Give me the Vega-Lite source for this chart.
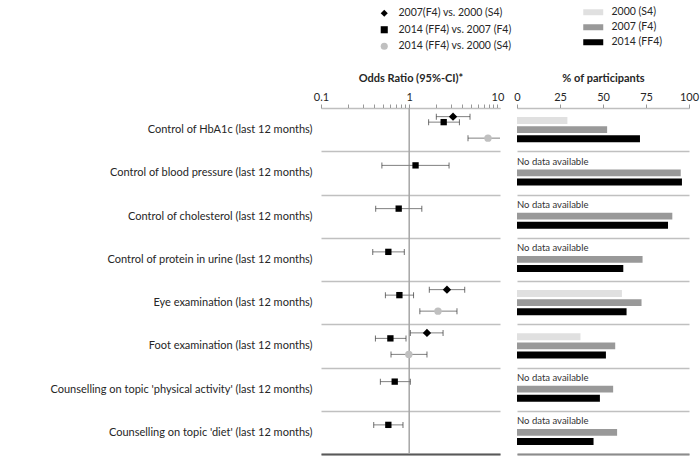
{
  "$schema": "https://vega.github.io/schema/vega-lite/v6.json",
  "padding": {"left": 47, "top": 7, "right": 1, "bottom": 2},
  "background": "white",
  "config": {
    "font": "Lato",
    "view": {"stroke": null},
    "axis": {"labelColor": "#262626", "titleColor": "#262626", "labelFontSize": 11, "titleFontSize": 11, "titleFontWeight": "bold"},
    "legend": {"labelColor": "#262626", "labelFontSize": 10.5, "padding": 0}
  },
  "datasets": {
    "or": [
      {"item": "Control of HbA1c (last 12 months)", "comp": "2007(F4)  vs. 2000 (S4)", "or": 3.14, "lo": 2.03, "hi": 4.89},
      {"item": "Control of HbA1c (last 12 months)", "comp": "2014 (FF4)  vs. 2007 (F4)", "or": 2.46, "lo": 1.66, "hi": 3.71},
      {"item": "Control of HbA1c (last 12 months)", "comp": "2014 (FF4) vs. 2000 (S4)", "or": 7.82, "lo": 4.64, "hi": 12},
      {"item": "Control of blood pressure (last 12 months)", "comp": "2014 (FF4)  vs. 2007 (F4)", "or": 1.18, "lo": 0.49, "hi": 2.83},
      {"item": "Control of cholesterol (last 12 months)", "comp": "2014 (FF4)  vs. 2007 (F4)", "or": 0.76, "lo": 0.417, "hi": 1.39},
      {"item": "Control of protein in urine (last 12 months)", "comp": "2014 (FF4)  vs. 2007 (F4)", "or": 0.58, "lo": 0.386, "hi": 0.88},
      {"item": "Eye examination (last 12 months)", "comp": "2007(F4)  vs. 2000 (S4)", "or": 2.68, "lo": 1.69, "hi": 4.26},
      {"item": "Eye examination (last 12 months)", "comp": "2014 (FF4)  vs. 2007 (F4)", "or": 0.774, "lo": 0.537, "hi": 1.12},
      {"item": "Eye examination (last 12 months)", "comp": "2014 (FF4) vs. 2000 (S4)", "or": 2.12, "lo": 1.32, "hi": 3.48},
      {"item": "Foot examination (last 12 months)", "comp": "2007(F4)  vs. 2000 (S4)", "or": 1.59, "lo": 1.03, "hi": 2.42},
      {"item": "Foot examination (last 12 months)", "comp": "2014 (FF4)  vs. 2007 (F4)", "or": 0.612, "lo": 0.414, "hi": 0.92},
      {"item": "Foot examination (last 12 months)", "comp": "2014 (FF4) vs. 2000 (S4)", "or": 0.99, "lo": 0.622, "hi": 1.59},
      {"item": "Counselling on topic 'physical activity'  (last 12 months)", "comp": "2014 (FF4)  vs. 2007 (F4)", "or": 0.685, "lo": 0.471, "hi": 1.03},
      {"item": "Counselling on topic 'diet'  (last 12 months)", "comp": "2014 (FF4)  vs. 2007 (F4)", "or": 0.58, "lo": 0.396, "hi": 0.85}
    ],
    "pct": [
      {"item": "Control of HbA1c (last 12 months)", "year": "2000 (S4)", "pct": 29.3},
      {"item": "Control of HbA1c (last 12 months)", "year": "2007 (F4)", "pct": 52.4},
      {"item": "Control of HbA1c (last 12 months)", "year": "2014 (FF4)", "pct": 71.5},
      {"item": "Control of blood pressure (last 12 months)", "year": "2000 (S4)", "pct": null},
      {"item": "Control of blood pressure (last 12 months)", "year": "2007 (F4)", "pct": 95.2},
      {"item": "Control of blood pressure (last 12 months)", "year": "2014 (FF4)", "pct": 95.9},
      {"item": "Control of cholesterol (last 12 months)", "year": "2000 (S4)", "pct": null},
      {"item": "Control of cholesterol (last 12 months)", "year": "2007 (F4)", "pct": 90.3},
      {"item": "Control of cholesterol (last 12 months)", "year": "2014 (FF4)", "pct": 87.8},
      {"item": "Control of protein in urine (last 12 months)", "year": "2000 (S4)", "pct": null},
      {"item": "Control of protein in urine (last 12 months)", "year": "2007 (F4)", "pct": 73.0},
      {"item": "Control of protein in urine (last 12 months)", "year": "2014 (FF4)", "pct": 61.8},
      {"item": "Eye examination (last 12 months)", "year": "2000 (S4)", "pct": 61.0},
      {"item": "Eye examination (last 12 months)", "year": "2007 (F4)", "pct": 72.4},
      {"item": "Eye examination (last 12 months)", "year": "2014 (FF4)", "pct": 63.7},
      {"item": "Foot examination (last 12 months)", "year": "2000 (S4)", "pct": 36.9},
      {"item": "Foot examination (last 12 months)", "year": "2007 (F4)", "pct": 57.1},
      {"item": "Foot examination (last 12 months)", "year": "2014 (FF4)", "pct": 51.7},
      {"item": "Counselling on topic 'physical activity'  (last 12 months)", "year": "2000 (S4)", "pct": null},
      {"item": "Counselling on topic 'physical activity'  (last 12 months)", "year": "2007 (F4)", "pct": 55.9},
      {"item": "Counselling on topic 'physical activity'  (last 12 months)", "year": "2014 (FF4)", "pct": 48.2},
      {"item": "Counselling on topic 'diet'  (last 12 months)", "year": "2000 (S4)", "pct": null},
      {"item": "Counselling on topic 'diet'  (last 12 months)", "year": "2007 (F4)", "pct": 58.2},
      {"item": "Counselling on topic 'diet'  (last 12 months)", "year": "2014 (FF4)", "pct": 44.5}
    ],
    "one": [{}]
  },
  "spacing": 17,
  "bounds": "flush",
  "resolve": {"scale": {"color": "independent", "shape": "independent"}, "legend": {"color": "independent", "shape": "independent"}},
  "hconcat": [
    {
      "width": 179,
      "height": 346,
      "data": {"name": "or"},
      "resolve": {"axis": {"x": "independent"}},
      "layer": [
        {
          "data": {"name": "one"},
          "mark": {"type": "rule", "color": "#a6a6a6", "strokeWidth": 1.5},
          "encoding": {
            "x": {"datum": 1, "type": "quantitative", "scale": {"type": "log", "domain": [0.1, 10.7], "nice": false},
              "axis": {"orient": "top", "title": "Odds Ratio (95%-CI)*", "values": [0.1, 0.2, 0.3, 0.4, 0.5, 0.6, 0.7, 0.8, 0.9, 1, 2, 3, 4, 5, 6, 7, 8, 9, 10], "labelExpr": "indexof([0.1, 1, 10], datum.value) >= 0 ? format(datum.value, '~g') : ''", "labelOverlap": false, "labelFlush": false, "grid": false, "tickSize": 4, "tickColor": "#999999", "domainColor": "#bfbfbf", "titlePadding": 8}}
          }
        },
        {
          "data": {"name": "one"},
          "mark": {"type": "rule", "opacity": 0},
          "encoding": {
            "x": {"datum": 1, "type": "quantitative", "scale": {"type": "log", "domain": [0.1, 10.7], "nice": false},
              "axis": {"orient": "bottom", "labels": false, "ticks": false, "title": null, "grid": false, "domainColor": "#595959", "domainWidth": 2}}
          }
        },
        {
          "transform": [{"filter": {"field": "comp", "equal": "2007(F4)  vs. 2000 (S4)"}}],
          "layer": [
            {"mark": {"type": "rule", "color": "#808080", "strokeWidth": 1, "yOffset": -13, "clip": true},
             "encoding": {"x": {"field": "lo", "type": "quantitative", "scale": {"type": "log", "domain": [0.1, 10.7], "nice": false}, "axis": null}, "x2": {"field": "hi"},
               "y": {"field": "item", "type": "nominal", "sort": null, "scale": {"domain": ["Control of HbA1c (last 12 months)", "Control of blood pressure (last 12 months)", "Control of cholesterol (last 12 months)", "Control of protein in urine (last 12 months)", "Eye examination (last 12 months)", "Foot examination (last 12 months)", "Counselling on topic 'physical activity'  (last 12 months)", "Counselling on topic 'diet'  (last 12 months)"], "paddingInner": 0, "paddingOuter": 0},
                 "axis": {"title": null, "domain": false, "ticks": false, "grid": true, "tickBand": "extent", "gridColor": "#c0c0c0", "gridWidth": 1.5, "labelPadding": 9, "labelLimit": 400, "labelFontSize": 11}}}},
            {"mark": {"type": "tick", "color": "#333333", "thickness": 1, "size": 6, "yOffset": -13, "clip": true},
             "encoding": {"x": {"field": "lo", "type": "quantitative", "scale": {"type": "log", "domain": [0.1, 10.7], "nice": false}, "axis": null}, "y": {"field": "item", "type": "nominal", "sort": null}}},
            {"mark": {"type": "tick", "color": "#333333", "thickness": 1, "size": 6, "yOffset": -13, "clip": true},
             "encoding": {"x": {"field": "hi", "type": "quantitative", "scale": {"type": "log", "domain": [0.1, 10.7], "nice": false}, "axis": null}, "y": {"field": "item", "type": "nominal", "sort": null}}},
            {"mark": {"type": "point", "filled": true, "opacity": 1, "size": 70, "yOffset": -13},
             "encoding": {
               "x": {"field": "or", "type": "quantitative", "scale": {"type": "log", "domain": [0.1, 10.7], "nice": false}, "axis": null},
               "y": {"field": "item", "type": "nominal", "sort": null},
               "shape": {"field": "comp", "type": "nominal", "scale": {"domain": ["2007(F4)  vs. 2000 (S4)", "2014 (FF4)  vs. 2007 (F4)", "2014 (FF4) vs. 2000 (S4)"], "range": ["diamond", "square", "circle"]},
                 "legend": {"orient": "none", "legendX": 58, "legendY": -100, "title": null, "symbolSize": 50, "rowPadding": 5.5, "symbolStrokeWidth": 0, "labelOffset": 9}},
               "color": {"field": "comp", "type": "nominal", "scale": {"domain": ["2007(F4)  vs. 2000 (S4)", "2014 (FF4)  vs. 2007 (F4)", "2014 (FF4) vs. 2000 (S4)"], "range": ["#000000", "#000000", "#c0c0c0"]},
                 "legend": {"orient": "none", "legendX": 58, "legendY": -100, "title": null, "symbolSize": 50, "rowPadding": 5.5, "symbolStrokeWidth": 0, "labelOffset": 9}}
             }}
          ]
        },
        {
          "transform": [{"filter": {"field": "comp", "equal": "2014 (FF4)  vs. 2007 (F4)"}}],
          "layer": [
            {"mark": {"type": "rule", "color": "#808080", "strokeWidth": 1, "yOffset": -7.5, "clip": true},
             "encoding": {"x": {"field": "lo", "type": "quantitative", "scale": {"type": "log", "domain": [0.1, 10.7], "nice": false}, "axis": null}, "x2": {"field": "hi"}, "y": {"field": "item", "type": "nominal", "sort": null}}},
            {"mark": {"type": "tick", "color": "#333333", "thickness": 1, "size": 6, "yOffset": -7.5, "clip": true},
             "encoding": {"x": {"field": "lo", "type": "quantitative", "scale": {"type": "log", "domain": [0.1, 10.7], "nice": false}, "axis": null}, "y": {"field": "item", "type": "nominal", "sort": null}}},
            {"mark": {"type": "tick", "color": "#333333", "thickness": 1, "size": 6, "yOffset": -7.5, "clip": true},
             "encoding": {"x": {"field": "hi", "type": "quantitative", "scale": {"type": "log", "domain": [0.1, 10.7], "nice": false}, "axis": null}, "y": {"field": "item", "type": "nominal", "sort": null}}},
            {"mark": {"type": "point", "filled": true, "opacity": 1, "size": 40, "yOffset": -7.5},
             "encoding": {"x": {"field": "or", "type": "quantitative", "scale": {"type": "log", "domain": [0.1, 10.7], "nice": false}, "axis": null}, "y": {"field": "item", "type": "nominal", "sort": null},
               "shape": {"field": "comp", "type": "nominal"}, "color": {"field": "comp", "type": "nominal"}}}
          ]
        },
        {
          "transform": [{"filter": {"field": "comp", "equal": "2014 (FF4) vs. 2000 (S4)"}}],
          "layer": [
            {"mark": {"type": "rule", "color": "#808080", "strokeWidth": 1, "yOffset": 8.5, "clip": true},
             "encoding": {"x": {"field": "lo", "type": "quantitative", "scale": {"type": "log", "domain": [0.1, 10.7], "nice": false}, "axis": null}, "x2": {"field": "hi"}, "y": {"field": "item", "type": "nominal", "sort": null}}},
            {"mark": {"type": "tick", "color": "#333333", "thickness": 1, "size": 6, "yOffset": 8.5, "clip": true},
             "encoding": {"x": {"field": "lo", "type": "quantitative", "scale": {"type": "log", "domain": [0.1, 10.7], "nice": false}, "axis": null}, "y": {"field": "item", "type": "nominal", "sort": null}}},
            {"mark": {"type": "tick", "color": "#333333", "thickness": 1, "size": 6, "yOffset": 8.5, "clip": true},
             "encoding": {"x": {"field": "hi", "type": "quantitative", "scale": {"type": "log", "domain": [0.1, 10.7], "nice": false}, "axis": null}, "y": {"field": "item", "type": "nominal", "sort": null}}},
            {"mark": {"type": "point", "filled": true, "opacity": 1, "size": 55, "yOffset": 8.5},
             "encoding": {"x": {"field": "or", "type": "quantitative", "scale": {"type": "log", "domain": [0.1, 10.7], "nice": false}, "axis": null}, "y": {"field": "item", "type": "nominal", "sort": null},
               "shape": {"field": "comp", "type": "nominal"}, "color": {"field": "comp", "type": "nominal"}}}
          ]
        }
      ]
    },
    {
      "width": 172,
      "height": 346,
      "data": {"name": "pct"},
      "resolve": {"axis": {"x": "independent"}},
      "layer": [
        {
          "transform": [{"filter": "isValid(datum.pct)"}],
          "mark": {"type": "bar"},
          "encoding": {
            "y": {"field": "item", "type": "nominal", "sort": null, "scale": {"domain": ["Control of HbA1c (last 12 months)", "Control of blood pressure (last 12 months)", "Control of cholesterol (last 12 months)", "Control of protein in urine (last 12 months)", "Eye examination (last 12 months)", "Foot examination (last 12 months)", "Counselling on topic 'physical activity'  (last 12 months)", "Counselling on topic 'diet'  (last 12 months)"], "paddingInner": 0, "paddingOuter": 0},
              "axis": {"title": null, "labels": false, "domain": false, "ticks": false, "grid": true, "tickBand": "extent", "gridColor": "#c0c0c0", "gridWidth": 1.5}},
            "yOffset": {"field": "year", "type": "nominal", "sort": null, "scale": {"domain": ["2000 (S4)", "2007 (F4)", "2014 (FF4)"], "paddingInner": 0.25, "paddingOuter": 1.33}},
            "x": {"field": "pct", "type": "quantitative", "title": "% of participants", "scale": {"domain": [0, 100]},
              "axis": {"orient": "top", "values": [0, 25, 50, 75, 100], "labelFlush": false, "grid": false, "tickSize": 4, "tickColor": "#999999", "domainColor": "#bfbfbf", "titlePadding": 8}},
            "color": {"field": "year", "type": "nominal", "scale": {"domain": ["2000 (S4)", "2007 (F4)", "2014 (FF4)"], "range": ["#e0e0e0", "#999999", "#000000"]},
              "legend": {"orient": "none", "legendX": 71, "legendY": -101, "title": null, "symbolType": "M-2,-0.6H2V0.6H-2Z", "symbolSize": 100, "symbolStrokeWidth": 0, "rowPadding": 4, "labelOffset": 13}}
          }
        },
        {
          "transform": [{"filter": "!isValid(datum.pct) && datum.year == '2000 (S4)'"}],
          "mark": {"type": "text", "text": "No data available", "align": "left", "baseline": "middle", "dy": -2, "fontSize": 9.5, "color": "#333333"},
          "encoding": {
            "y": {"field": "item", "type": "nominal", "sort": null},
            "yOffset": {"field": "year", "type": "nominal", "sort": null},
            "x": {"datum": 0, "type": "quantitative", "scale": {"domain": [0, 100]}, "axis": {"orient": "bottom", "labels": false, "ticks": false, "title": null, "grid": false, "domainColor": "#8c8c8c", "domainWidth": 2}}
          }
        }
      ]
    }
  ]
}
